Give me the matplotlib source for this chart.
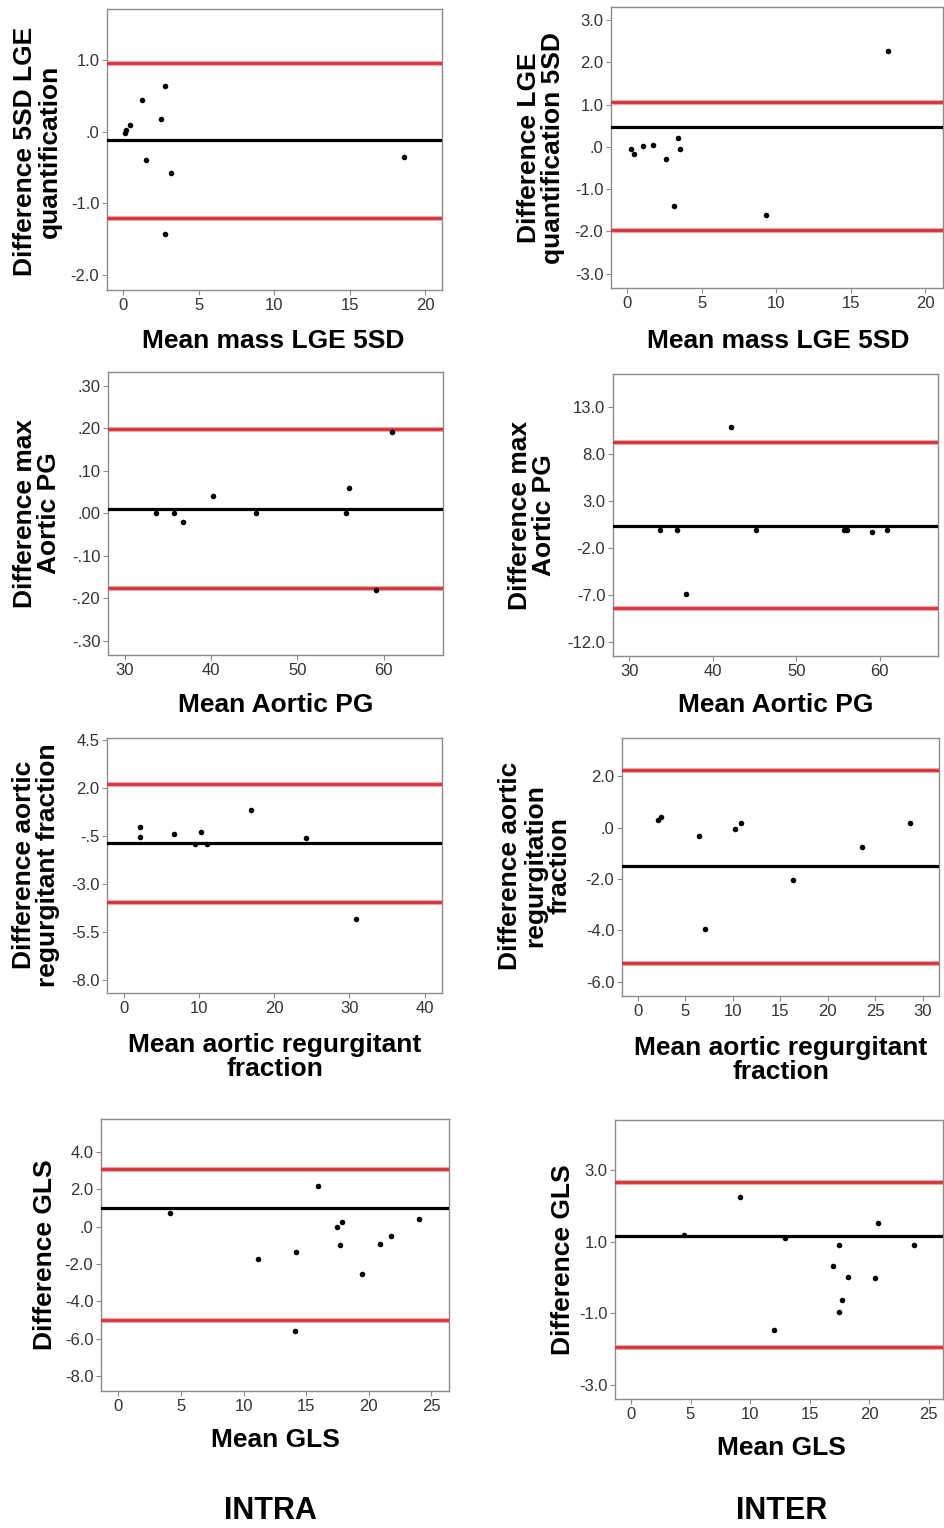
import matplotlib
matplotlib.use("Agg")
import matplotlib.pyplot as plt

plt.rcParams['font.family'] = ['Liberation Sans', 'DejaVu Sans']

# ---------------- data ----------------
# Panel 1: INTRA, LGE 5SD
p1_x = [0.15, 0.18, 0.44, 1.26, 1.52, 2.48, 2.76, 3.2, 2.78, 18.56]
p1_y = [-0.02, 0.03, 0.10, 0.45, -0.39, 0.18, 0.64, -0.58, -1.43, -0.35]
p1_lines = [0.965, -0.11, -1.20]
p1_xticks = [0, 5, 10, 15, 20]
p1_yticks = [1.0, 0.0, -1.0, -2.0]
p1_yticklabels = ["1.0", ".0", "-1.0", "-2.0"]

# Panel 2: INTER, LGE 5SD
p2_x = [0.29, 0.46, 1.06, 1.75, 2.63, 3.43, 3.56, 3.12, 9.33, 17.5]
p2_y = [-0.06, -0.17, 0.03, 0.04, -0.28, 0.22, -0.06, -1.39, -1.62, 2.27]
p2_lines = [1.05, 0.47, -1.97]
p2_xticks = [0, 5, 10, 15, 20]
p2_yticks = [3.0, 2.0, 1.0, 0.0, -1.0, -2.0, -3.0]
p2_yticklabels = ["3.0", "2.0", "1.0", ".0", "-1.0", "-2.0", "-3.0"]

# Panel 3: INTRA, Aortic PG
p3_x = [33.57, 35.66, 36.67, 40.19, 45.16, 55.66, 55.97, 59.1, 60.93]
p3_y = [0.00, 0.00, -0.021, 0.040, 0.00, 0.00, 0.059, -0.181, 0.19]
p3_lines = [0.198, 0.010, -0.177]
p3_xticks = [30, 40, 50, 60]
p3_yticks = [0.30, 0.20, 0.10, 0.0, -0.10, -0.20, -0.30]
p3_yticklabels = [".30", ".20", ".10", ".00", "-.10", "-.20", "-.30"]

# Panel 4: INTER, Aortic PG
p4_x = [33.63, 35.78, 36.82, 42.2, 45.16, 55.73, 56.05, 59.08, 60.87]
p4_y = [-0.06, -0.06, -6.87, 10.9, -0.06, -0.06, -0.06, -0.31, -0.06]
p4_lines = [9.30, 0.36, -8.46]
p4_xticks = [30, 40, 50, 60]
p4_yticks = [13.0, 8.0, 3.0, -2.0, -7.0, -12.0]
p4_yticklabels = ["13.0", "8.0", "3.0", "-2.0", "-7.0", "-12.0"]

# Panel 5: INTRA, aortic regurgitant fraction
p5_x = [2.13, 2.17, 6.73, 9.43, 10.32, 11.1, 16.92, 24.22, 30.9]
p5_y = [-0.05, -0.55, -0.41, -0.94, -0.29, -0.91, 0.85, -0.62, -4.83]
p5_lines = [2.24, -0.87, -3.96]
p5_xticks = [0, 10, 20, 30, 40]
p5_yticks = [4.5, 2.0, -0.5, -3.0, -5.5, -8.0]
p5_yticklabels = ["4.5", "2.0", "-.5", "-3.0", "-5.5", "-8.0"]

# Panel 6: INTER, aortic regurgitant fraction
p6_x = [2.14, 2.42, 6.44, 7.07, 10.26, 10.82, 16.31, 23.6, 28.6]
p6_y = [0.31, 0.42, -0.32, -3.94, -0.04, 0.19, -2.04, -0.75, 0.19]
p6_lines = [2.23, -1.48, -5.25]
p6_xticks = [0, 5, 10, 15, 20, 25, 30]
p6_yticks = [2.0, 0.0, -2.0, -4.0, -6.0]
p6_yticklabels = ["2.0", ".0", "-2.0", "-4.0", "-6.0"]

# Panel 7: INTRA, GLS
p7_x = [4.1, 11.14, 14.15, 14.07, 15.93, 17.45, 17.87, 17.69, 19.47, 20.93, 21.78, 24.04]
p7_y = [0.70, -1.75, -1.36, -5.57, 2.18, 0.0, 0.23, -0.98, -2.52, -0.91, -0.48, 0.41]
p7_lines = [3.09, 0.98, -5.02]
p7_xticks = [0, 5, 10, 15, 20, 25]
p7_yticks = [4.0, 2.0, 0.0, -2.0, -4.0, -6.0, -8.0]
p7_yticklabels = ["4.0", "2.0", ".0", "-2.0", "-4.0", "-6.0", "-8.0"]

# Panel 8: INTER, GLS
p8_x = [4.46, 9.14, 12.93, 12.03, 16.96, 17.49, 18.19, 17.47, 17.72, 20.47, 20.72, 23.73]
p8_y = [1.18, 2.25, 1.09, -1.47, 0.33, 0.90, 0.0, -0.97, -0.63, -0.02, 1.53, 0.91]
p8_lines = [2.67, 1.17, -1.95]
p8_xticks = [0, 5, 10, 15, 20, 25]
p8_yticks = [3.0, 1.0, -1.0, -3.0]
p8_yticklabels = ["3.0", "1.0", "-1.0", "-3.0"]

ylabels = ["Difference 5SD LGE\nquantification",
           "Difference LGE\nquantification 5SD",
           "Difference max\nAortic PG",
           "Difference max\nAortic PG",
           "Difference aortic\nregurgitant fraction",
           "Difference aortic\nregurgitation\nfraction",
           "Difference GLS",
           "Difference GLS"]
xlabels = ["Mean mass LGE 5SD", "Mean mass LGE 5SD",
           "Mean Aortic PG", "Mean Aortic PG",
           "Mean aortic regurgitant\nfraction", "Mean aortic regurgitant\nfraction",
           "Mean GLS", "Mean GLS"]
group_labels = ["INTRA", "INTER"]

# ---------------- layout (pixels) ----------------
W, H = 945, 1528
panels = [
    (p1_x, p1_y, p1_lines, p1_xticks, p1_yticks, p1_yticklabels, (107, 442, 9, 290), (-1.06, 21.1), (-2.21, 1.72), (37, 151), (273, 341)),
    (p2_x, p2_y, p2_lines, p2_xticks, p2_yticks, p2_yticklabels, (611, 943, 7, 288), (-1.08, 21.2), (-3.34, 3.31), (541, 148), (778, 341)),
    (p3_x, p3_y, p3_lines, p3_xticks, p3_yticks, p3_yticklabels, (108, 443, 372, 655), (28.02, 66.9), (-0.334, 0.332), (37, 513), (276, 705)),
    (p4_x, p4_y, p4_lines, p4_xticks, p4_yticks, p4_yticklabels, (613, 938, 374, 656), (28.05, 67.0), (-13.53, 16.56), (532, 515), (776, 705)),
    (p5_x, p5_y, p5_lines, p5_xticks, p5_yticks, p5_yticklabels, (107, 442, 738, 993), (-2.21, 42.3), (-8.70, 4.62), (36, 865), (275, 1057)),
    (p6_x, p6_y, p6_lines, p6_xticks, p6_yticks, p6_yticklabels, (622, 939, 738, 996), (-1.65, 31.7), (-6.55, 3.49), (535, 866), (781, 1060)),
    (p7_x, p7_y, p7_lines, p7_xticks, p7_yticks, p7_yticklabels, (101, 449, 1119, 1391), (-1.38, 26.4), (-8.79, 5.75), (45, 1255), (275, 1440)),
    (p8_x, p8_y, p8_lines, p8_xticks, p8_yticks, p8_yticklabels, (615, 943, 1120, 1399), (-1.34, 26.2), (-3.40, 4.40), (563, 1260), (781, 1448)),
]

fig = plt.figure(figsize=(W / 100, H / 100), dpi=100)
red = '#d8323a'
spine_c = '#8c8c8c'
tick_c = '#333333'

for i, (xs, ys, lines, xt, yt, ytl, box, xl, yl, ylc, xlc) in enumerate(panels):
    x0, x1, y0, y1 = box
    ax = fig.add_axes([x0 / W, 1 - y1 / H, (x1 - x0) / W, (y1 - y0) / H])
    ax.set_xlim(*xl)
    ax.set_ylim(*yl)
    upper, mean, lower = lines
    for v in (upper, lower):
        ax.axhline(v, color='#f2a5a8', lw=3.6, zorder=2)
        ax.axhline(v, color=red, lw=2.0, zorder=3)
    ax.axhline(mean, color='black', lw=2.3, zorder=3)
    ax.scatter(xs, ys, s=16, color='black', zorder=4, linewidths=0)
    ax.set_xticks(xt)
    ax.set_xticklabels([str(v) for v in xt])
    ax.set_yticks(yt)
    ax.set_yticklabels(ytl)
    ax.tick_params(axis='both', direction='out', length=3.5, width=0.8,
                   color=spine_c, labelcolor=tick_c, labelsize=12, pad=2)
    for s in ax.spines.values():
        s.set_color(spine_c)
        s.set_linewidth(1.0)
    fig.text(ylc[0] / W, 1 - ylc[1] / H, ylabels[i], rotation=90,
             ha='center', va='center', multialignment='center',
             fontsize=19, fontweight='bold', linespacing=1.05)
    fig.text(xlc[0] / W, 1 - xlc[1] / H, xlabels[i],
             ha='center', va='center', multialignment='center',
             fontsize=19, fontweight='bold', linespacing=1.05)

fig.text(270 / W, 1 - 1511 / H, group_labels[0], ha='center', va='center',
         fontsize=22, fontweight='bold')
fig.text(782 / W, 1 - 1511 / H, group_labels[1], ha='center', va='center',
         fontsize=22, fontweight='bold')

fig.savefig('out.png', dpi=100, facecolor='white')
